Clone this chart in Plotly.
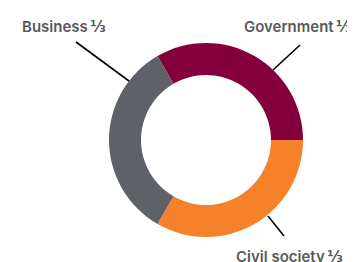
import plotly.graph_objects as go

W, H = 355, 262

sectors = ["Government", "Civil society", "Business"]
shares = [1, 1, 1]
colors = ["#83003d", "#f5822a", "#5e6168"]
fraction = "⅓"

fig = go.Figure(go.Pie(
    labels=sectors,
    values=shares,
    hole=0.67,
    sort=False,
    direction="clockwise",
    rotation=-30,
    marker=dict(colors=colors, line=dict(width=0)),
    textinfo="none",
    hoverinfo="label",
    showlegend=False,
    domain=dict(x=[101 / W, 295 / W], y=[1 - 229 / H, 1 - 35 / H]),
))

def px(x, y):
    return x / W, 1 - y / H

label_pos = [(234, 18), (226, 248), (12, 18)]
leaders = [((292, 37), (265, 62)), ((260, 208), (276, 228)), ((68, 34), (121, 73))]

font = dict(family="Inter", size=15, color="#58595b", weight=600)
for name, (lx, ly), ((x0, y0), (x1, y1)) in zip(sectors, label_pos, leaders):
    ax, ay = px(lx, ly)
    txt = f'{name}\u2009<span style="font-family:DejaVu Sans;font-size:15px">{fraction}</span>'
    fig.add_annotation(x=ax, y=ay, xref="paper", yref="paper", text=txt,
                       showarrow=False, xanchor="left", yanchor="middle", font=font)
    a0, b0 = px(x0, y0)
    a1, b1 = px(x1, y1)
    fig.add_shape(type="line", xref="paper", yref="paper", x0=a0, y0=b0, x1=a1, y1=b1,
                  line=dict(color="#000000", width=1.6))

fig.update_layout(
    width=W, height=H, autosize=False,
    margin=dict(l=0, r=0, t=0, b=0),
    paper_bgcolor="white", plot_bgcolor="white",
)

fig.write_html("out.html")
